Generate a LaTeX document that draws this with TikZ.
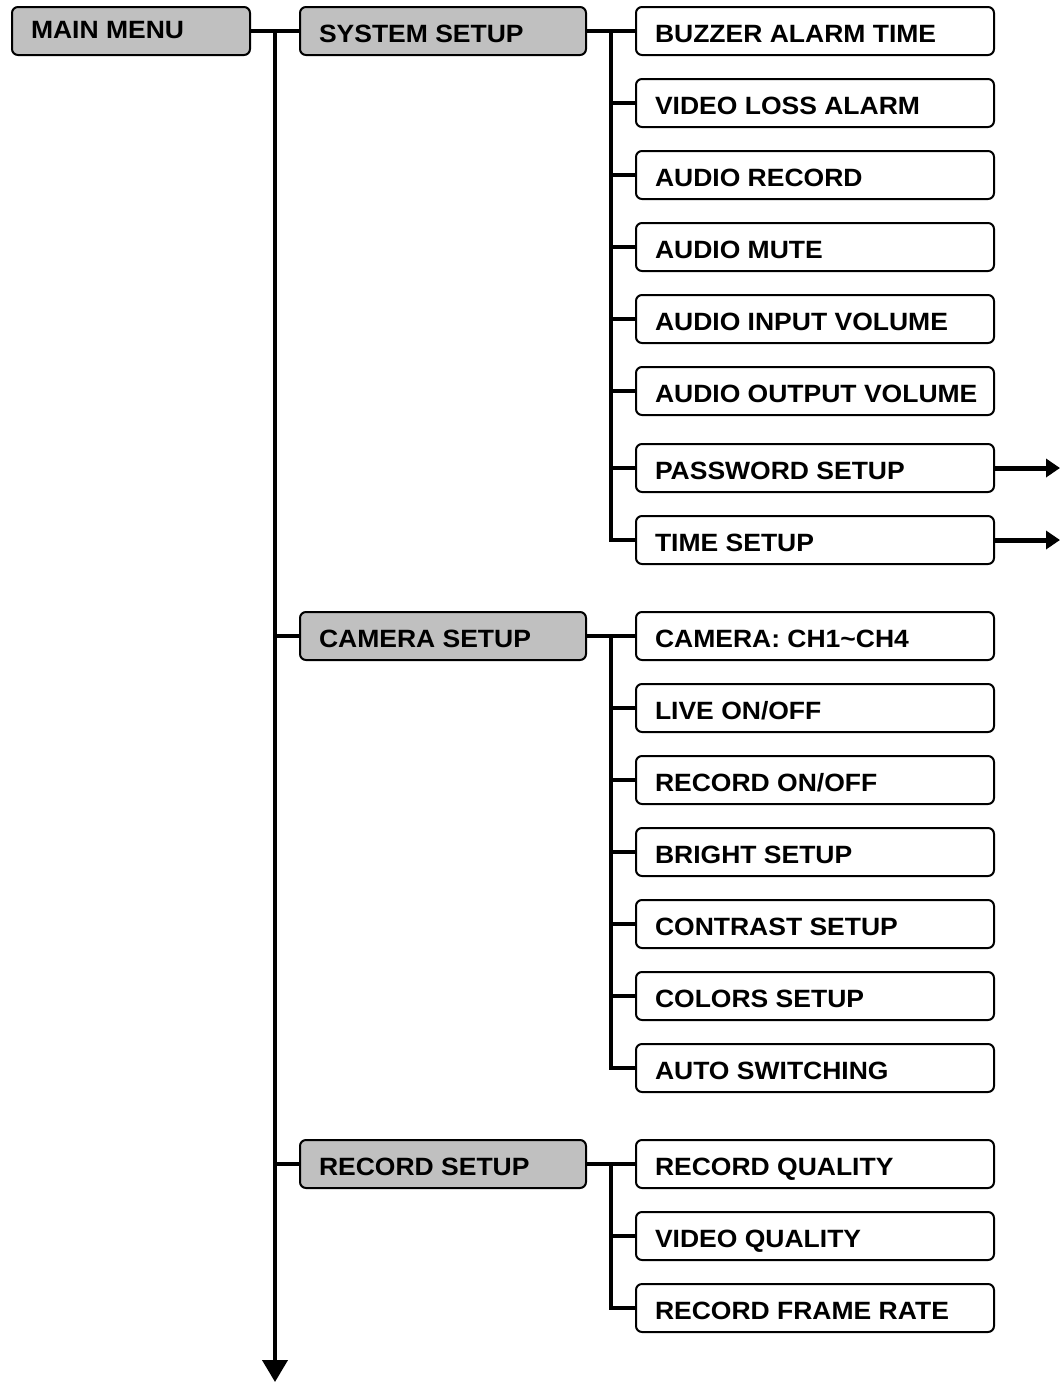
\documentclass[tikz,border=0pt]{standalone}
\usepackage{fontspec}
\setmainfont[FakeStretch=1.06]{Liberation Sans}
\usetikzlibrary{arrows.meta}
\definecolor{boxgray}{HTML}{C0C0C0}
\newcommand{\lbox}[2]{\makebox[#1][l]{#2}}
\begin{document}
\begin{tikzpicture}[x=1pt,y=-1pt,
  every node/.style={font=\fontsize{25}{30}\selectfont\bfseries},
  menubox/.style={draw=black, line width=2pt, rounded corners=6pt, fill=boxgray,
    minimum height=48pt, anchor=west, inner xsep=19pt, inner ysep=0pt,
    text height=22pt, text depth=0pt},
  itembox/.style={menubox, fill=white},
  conn/.style={line width=3.5pt},
  outarrow/.style={line width=5pt, -{Triangle[length=14pt,width=18pt]}},
  downarrow/.style={line width=4pt, -{Triangle[length=22pt,width=25pt]}}
]
\useasboundingbox (0,0) rectangle (1060,1382);

% top-level boxes
\node[menubox, text height=14pt] (main) at (11,31) {\lbox{200pt}{MAIN MENU}};
\node[menubox] (sys) at (299,31) {\lbox{248pt}{SYSTEM SETUP}};
\node[menubox] (cam) at (299,636) {\lbox{248pt}{CAMERA SETUP}};
\node[menubox] (rec) at (299,1164) {\lbox{248pt}{RECORD SETUP}};

% system items
\node[itembox] (s1) at (635,31) {\lbox{320pt}{BUZZER ALARM TIME}};
\node[itembox] (s2) at (635,103) {\lbox{320pt}{VIDEO LOSS ALARM}};
\node[itembox] (s3) at (635,175) {\lbox{320pt}{AUDIO RECORD}};
\node[itembox] (s4) at (635,247) {\lbox{320pt}{AUDIO MUTE}};
\node[itembox] (s5) at (635,319) {\lbox{320pt}{AUDIO INPUT VOLUME}};
\node[itembox] (s6) at (635,391) {\lbox{320pt}{AUDIO OUTPUT VOLUME}};
\node[itembox] (s7) at (635,468) {\lbox{320pt}{PASSWORD SETUP}};
\node[itembox] (s8) at (635,540) {\lbox{320pt}{TIME SETUP}};

% camera items
\node[itembox] (c1) at (635,636) {\lbox{320pt}{CAMERA: CH1\textasciitilde CH4}};
\node[itembox] (c2) at (635,708) {\lbox{320pt}{LIVE ON/OFF}};
\node[itembox] (c3) at (635,780) {\lbox{320pt}{RECORD ON/OFF}};
\node[itembox] (c4) at (635,852) {\lbox{320pt}{BRIGHT SETUP}};
\node[itembox] (c5) at (635,924) {\lbox{320pt}{CONTRAST SETUP}};
\node[itembox] (c6) at (635,996) {\lbox{320pt}{COLORS SETUP}};
\node[itembox] (c7) at (635,1068) {\lbox{320pt}{AUTO SWITCHING}};

% record items
\node[itembox] (r1) at (635,1164) {\lbox{320pt}{RECORD QUALITY}};
\node[itembox] (r2) at (635,1236) {\lbox{320pt}{VIDEO QUALITY}};
\node[itembox] (r3) at (635,1308) {\lbox{320pt}{RECORD FRAME RATE}};

% main trunk
\coordinate (mt) at (275,31);
\coordinate (mend) at (275,1382);
\draw[conn] (main.east) -- (sys.west);
\draw[downarrow] (mt) -- (mend);
\draw[conn] (mt |- cam.west) -- (cam.west);
\draw[conn] (mt |- rec.west) -- (rec.west);

% system branch
\coordinate (st) at (611,31);
\draw[conn] (sys.east) -- (s1.west);
\draw[conn] (st) -- (st |- s8.west) -- (s8.west);
\foreach \n in {s2,s3,s4,s5,s6,s7} \draw[conn] (st |- \n.west) -- (\n.west);

% camera branch
\coordinate (ct) at (611,636);
\draw[conn] (cam.east) -- (c1.west);
\draw[conn] (ct) -- (ct |- c7.west) -- (c7.west);
\foreach \n in {c2,c3,c4,c5,c6} \draw[conn] (ct |- \n.west) -- (\n.west);

% record branch
\coordinate (rt) at (611,1164);
\draw[conn] (rec.east) -- (r1.west);
\draw[conn] (rt) -- (rt |- r3.west) -- (r3.west);
\draw[conn] (rt |- r2.west) -- (r2.west);

% outgoing arrows
\coordinate (pend) at (1060,468);
\coordinate (tend) at (1060,540);
\draw[outarrow] (s7.east) -- (pend);
\draw[outarrow] (s8.east) -- (tend);
\end{tikzpicture}
\end{document}
